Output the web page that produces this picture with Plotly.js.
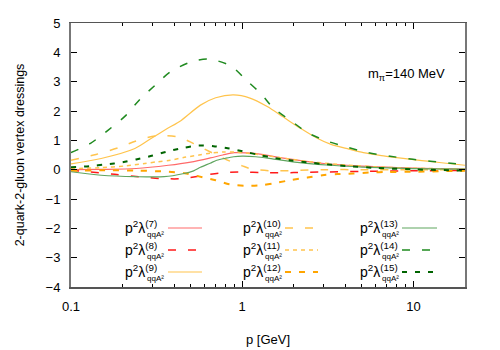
<!DOCTYPE html>
<html>
<head>
<meta charset="utf-8">
<script src="https://cdn.plot.ly/plotly-3.0.1.min.js"></script>
<style>
  html, body { margin: 0; padding: 0; background: #fff; }
  #chart { width: 500px; height: 350px; }
</style>
</head>
<body>
<div id="chart"></div>
<script>
// ------------------------------------------------------------------------------
// DATA (p in GeV)

const p7  = [0.1, 0.15, 0.24, 0.37, 0.5, 0.65, 0.77, 0.9, 1.06, 1.3, 1.7, 2.3, 3.0, 5.0, 8.0, 13, 20];
const l7  = [0.0, 0.01, 0.04, 0.15, 0.26, 0.4, 0.5, 0.58, 0.57, 0.52, 0.4, 0.29, 0.21, 0.12, 0.07, 0.04, 0.02];

const p8  = [0.1, 0.13, 0.18, 0.25, 0.33, 0.43, 0.56, 0.75, 1.0, 1.3, 2.0, 3.0, 5, 10, 20];
const l8  = [-0.02, -0.08, -0.16, -0.24, -0.3, -0.31, -0.22, -0.11, -0.08, -0.1, -0.1, -0.08, -0.06, -0.04, -0.03];

const p9  = [0.1, 0.15, 0.236, 0.3, 0.365, 0.44, 0.57, 0.7, 0.89, 1.11, 1.4, 1.73, 2.2, 2.74, 3.3, 4.2, 5.1, 6.5, 8, 10, 12.5, 16, 20];
const l9  = [0.2, 0.38, 0.72, 1.1, 1.4, 1.68, 2.2, 2.45, 2.55, 2.44, 2.15, 1.8, 1.4, 1.07, 0.86, 0.7, 0.58, 0.48, 0.41, 0.34, 0.28, 0.21, 0.15];

const p10 = [0.1, 0.14, 0.19, 0.24, 0.31, 0.42, 0.52, 0.68, 0.85, 1.0, 1.14, 1.5, 2.0, 3.0, 5, 10, 20];
const l10 = [0.32, 0.52, 0.75, 0.98, 1.15, 1.12, 0.89, 0.55, 0.29, 0.13, 0.02, -0.04, -0.03, 0.0, 0.0, 0.0, 0.0];

const p11 = [0.1, 0.15, 0.21, 0.27, 0.32, 0.38, 0.46, 0.56, 0.65, 0.77, 0.9, 1.05, 1.3, 1.8, 2.5, 4, 7, 12, 20];
const l11 = [0.03, 0.07, 0.13, 0.21, 0.27, 0.32, 0.42, 0.5, 0.56, 0.6, 0.6, 0.57, 0.5, 0.38, 0.27, 0.16, 0.08, 0.04, 0.02];

const p12 = [0.1, 0.17, 0.24, 0.37, 0.46, 0.55, 0.7, 0.84, 1.04, 1.29, 1.58, 1.94, 2.4, 2.94, 3.6, 4.45, 5.5, 7, 10.6, 15, 20];
const l12 = [-0.04, -0.02, -0.03, -0.07, -0.12, -0.22, -0.36, -0.5, -0.55, -0.53, -0.45, -0.35, -0.27, -0.19, -0.15, -0.13, -0.1, -0.08, -0.07, -0.05, -0.04];

const p13 = [0.1, 0.15, 0.24, 0.35, 0.45, 0.52, 0.57, 0.65, 0.71, 0.8, 0.89, 1.0, 1.2, 1.5, 2.1, 3.3, 5, 8, 12, 20];
const l13 = [-0.07, -0.19, -0.24, -0.24, -0.14, -0.04, 0.08, 0.22, 0.32, 0.39, 0.44, 0.46, 0.44, 0.37, 0.25, 0.15, 0.09, 0.05, 0.03, 0.02];

const p14 = [0.1, 0.13, 0.165, 0.21, 0.25, 0.31, 0.38, 0.5, 0.63, 0.85, 1.07, 1.29, 1.52, 1.9, 2.43, 3.14, 4.1, 5.4, 7.3, 9.6, 12.5, 16.5, 20];
const l14 = [0.58, 0.9, 1.35, 1.86, 2.37, 2.88, 3.33, 3.67, 3.77, 3.55, 3.02, 2.58, 2.1, 1.69, 1.25, 0.97, 0.77, 0.58, 0.46, 0.36, 0.29, 0.22, 0.18];

const p15 = [0.1, 0.13, 0.16, 0.2, 0.24, 0.3, 0.36, 0.45, 0.55, 0.68, 0.84, 1.03, 1.26, 1.54, 1.9, 2.4, 3.0, 4.2, 6, 10, 20];
const l15 = [0.08, 0.12, 0.18, 0.25, 0.35, 0.48, 0.61, 0.74, 0.82, 0.8, 0.72, 0.61, 0.5, 0.4, 0.32, 0.25, 0.19, 0.12, 0.06, 0.01, -0.03];

const xTickVals  = [0.1, 1, 10];
const xTickText  = ['0.1', '1', '10'];
const xMinorVals = [0.2, 0.3, 0.4, 0.5, 0.6, 0.7, 0.8, 0.9, 2, 3, 4, 5, 6, 7, 8, 9, 20];
const yTickVals  = [-4, -3, -2, -1, 0, 1, 2, 3, 4, 5];

const labels = ['(7)', '(8)', '(9)', '(10)', '(11)', '(12)', '(13)', '(14)', '(15)'];

// ------------------------------------------------------------------------------
// STYLES

const font_family = 'Liberation Sans, Arial, Helvetica, sans-serif';

const series = [
    {x: p7,  y: l7,  color: '#ff6a6a', dash: 'solid',      width: 1.2},
    {x: p8,  y: l8,  color: '#ff1a1a', dash: '8px,12px',   width: 1.5},
    {x: p9,  y: l9,  color: '#ffc44d', dash: 'solid',      width: 1.2},
    {x: p10, y: l10, color: '#ffc44d', dash: '8px,12px',   width: 1.5},
    {x: p11, y: l11, color: '#ffc44d', dash: '4px,4px',    width: 1.5},
    {x: p12, y: l12, color: '#ffa500', dash: '6px,8px',    width: 2},
    {x: p13, y: l13, color: '#5fa55f', dash: 'solid',      width: 1.2},
    {x: p14, y: l14, color: '#1f8a1f', dash: '8px,12px',   width: 1.5},
    {x: p15, y: l15, color: '#006400', dash: '5px,8px',    width: 2},
];

// plot frame in pixels (500x350 page)
const frame = {l: 71, r: 465, t: 23, b: 287};
const px2x = (px) => (px - frame.l) / (frame.r - frame.l);
const px2y = (py) => (frame.b - py) / (frame.b - frame.t);

// ------------------------------------------------------------------------------
// TRACES

const traces = series.map((s) => ({
    x: s.x,
    y: s.y,
    type: 'scatter',
    mode: 'lines',
    line: {color: s.color, dash: s.dash, width: s.width, shape: 'spline', smoothing: 0.8},
    showlegend: false,
    hoverinfo: 'none'
}));

// ------------------------------------------------------------------------------
// LEGEND (text left of sample, three columns)

const colText   = [123, 241, 358];
const colSample = [[168, 202], [285, 318], [402, 437]];
const rowY      = [228, 250, 272];

const annotations = [];
const shapes = [];

series.forEach((s, i) => {
    const c = Math.floor(i / 3);
    const r = i % 3;
    annotations.push({
        text: 'p<sup>2</sup>λ<sup>' + labels[i] + '</sup>',
        x: px2x(colText[c]), y: px2y(rowY[r] - 1),
        xref: 'paper', yref: 'paper',
        xanchor: 'left', yanchor: 'middle',
        showarrow: false,
        font: {family: font_family, size: 14, color: '#000'}
    });
    annotations.push({
        text: 'qqA²',
        x: px2x(colText[c] + 22), y: px2y(rowY[r] + 6),
        xref: 'paper', yref: 'paper',
        xanchor: 'left', yanchor: 'middle',
        showarrow: false,
        font: {family: font_family, size: 8, color: '#000'}
    });
    shapes.push({
        type: 'line', xref: 'paper', yref: 'paper',
        x0: px2x(colSample[c][0]), x1: px2x(colSample[c][1]),
        y0: px2y(rowY[r]), y1: px2y(rowY[r]),
        line: {color: s.color, dash: s.dash, width: s.width}
    });
});

annotations.push({
    text: 'm<sub>π</sub>=140 MeV',
    x: px2x(366), y: px2y(74),
    xref: 'paper', yref: 'paper',
    xanchor: 'left', yanchor: 'middle',
    showarrow: false,
    font: {family: font_family, size: 13, color: '#000'}
});

// ------------------------------------------------------------------------------
// LAYOUT

const layout = {
    width: 500,
    height: 350,
    margin: {l: frame.l, r: 500 - frame.r, t: frame.t, b: 350 - frame.b},
    paper_bgcolor: '#fff',
    plot_bgcolor: '#fff',
    font: {family: font_family, size: 13, color: '#000'},
    xaxis: {
        type: 'log',
        range: [-1, Math.log10(20)],
        tickmode: 'array',
        tickvals: xTickVals,
        ticktext: xTickText,
        ticks: 'inside',
        ticklen: 6,
        tickcolor: '#000',
        ticklabelstandoff: 7,
        minor: {tickmode: 'array', tickvals: xMinorVals, ticks: 'inside', ticklen: 3, tickcolor: '#000', showgrid: false},
        showgrid: false,
        zeroline: false,
        showline: true,
        mirror: 'allticks',
        linecolor: '#555',
        linewidth: 1.5,
        title: {text: 'p [GeV]', standoff: 22, font: {size: 13}}
    },
    yaxis: {
        range: [-4, 5],
        tickmode: 'array',
        tickvals: yTickVals,
        ticks: 'inside',
        ticklen: 6,
        tickcolor: '#000',
        ticklabelstandoff: 6,
        showgrid: false,
        zeroline: false,
        showline: true,
        mirror: 'allticks',
        linecolor: '#777',
        linewidth: 2,
        title: {text: '2-quark-2-gluon vertex dressings', standoff: 18, font: {size: 12.5}}
    },
    annotations: annotations,
    shapes: shapes,
    showlegend: false
};

Plotly.newPlot('chart', traces, layout, {displayModeBar: false, staticPlot: true});
</script>
</body>
</html>
